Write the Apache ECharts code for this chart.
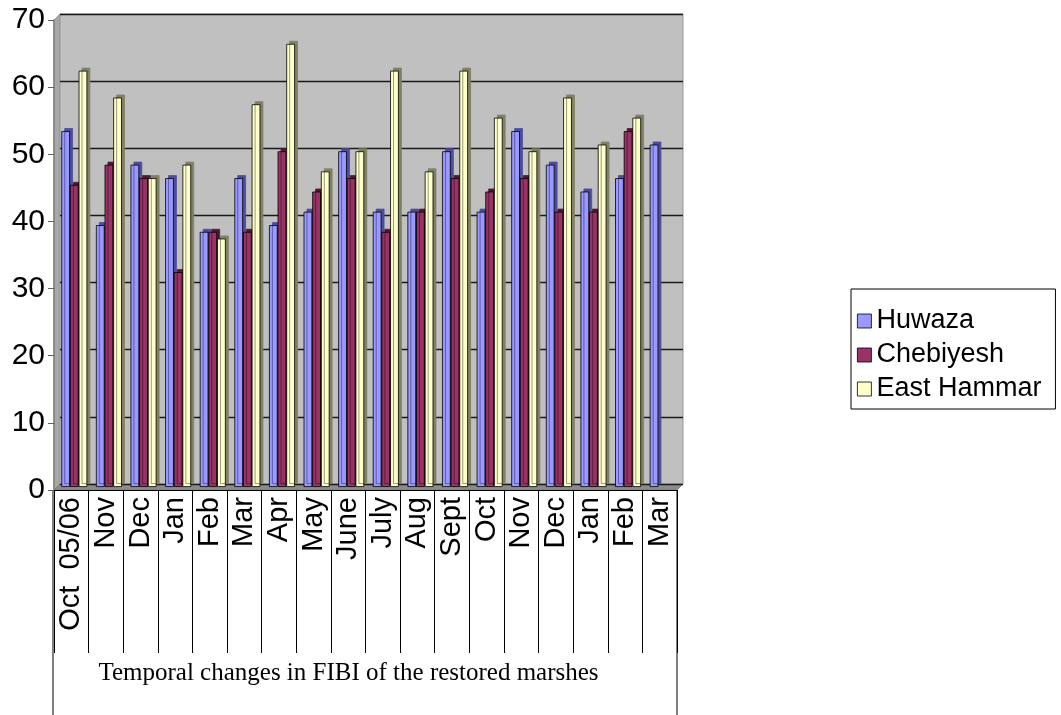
<!DOCTYPE html>
<html>
<head>
<meta charset="utf-8">
<script src="https://cdn.jsdelivr.net/npm/echarts@6/dist/echarts.min.js"></script>
<style>
html,body{margin:0;padding:0;background:#fff;}
#chart{width:1061px;height:715px;}
</style>
</head>
<body>
<div id="chart"></div>
<script>
// ---- data ----
const categories = ['Oct  05/06','Nov','Dec','Jan','Feb','Mar','Apr','May','June','July','Aug','Sept','Oct','Nov','Dec','Jan','Feb','Mar'];
const huwaza     = [53,39,48,46,38,46,39,41,50,41,41,50,41,53,48,44,46,51];
const chebiyesh  = [45,48,46,32,38,38,50,44,46,38,41,46,44,46,41,41,53,null];
const eastHammar = [62,58,46,48,37,57,66,47,50,62,47,62,55,50,58,51,55,null];
const seriesNames = ['Huwaza','Chebiyesh','East Hammar'];
const yTicks = {min:0, max:70, interval:10};
const xTitle = 'Temporal changes in FIBI of the restored marshes';

// ---- layout ----
const FRONT = {left:54, top:20, width:623, height:470};
const DEPTH = 6;
const MID = {left:FRONT.left+DEPTH/2, top:FRONT.top-DEPTH/2, width:FRONT.width, height:FRONT.height};
const BACK = {left:FRONT.left+DEPTH, top:FRONT.top-DEPTH, width:FRONT.width, height:FRONT.height};

const chart = echarts.init(document.getElementById('chart'), null, {renderer:'canvas'});

function barSeries(name, data, color, side){
  return {
    name, type:'bar', data, xAxisIndex:1, yAxisIndex:1,
    barGap:'0%', barCategoryGap:'25%',
    itemStyle:{color, borderColor:'#000', borderWidth:0.8,
      shadowColor:side, shadowBlur:0, shadowOffsetX:3, shadowOffsetY:-3},
    emphasis:{disabled:true},
    animation:false
  };
}

const fx0 = FRONT.left, fx1 = FRONT.left+FRONT.width, fy1 = FRONT.top+FRONT.height;
const bx0 = BACK.left, bx1 = BACK.left+BACK.width, by0 = BACK.top, by1 = BACK.top+BACK.height;

const option = {
  backgroundColor:'#fff',
  animation:false,
  textStyle:{fontFamily:'Arial, "Liberation Sans", sans-serif'},
  grid:[
    Object.assign({containLabel:false}, FRONT),
    Object.assign({containLabel:false}, MID),
    Object.assign({containLabel:false, show:true, backgroundColor:'#c0c0c0', borderColor:'#999', borderWidth:1}, BACK)
  ],
  xAxis:[
    {type:'category', gridIndex:0, data:categories,
     axisLine:{show:true, lineStyle:{color:'#000', width:1.2}},
     axisTick:{show:true, interval:0, length:163, lineStyle:{color:'#000', width:1}},
     axisLabel:{interval:0, rotate:90, fontSize:29, color:'#000', margin:7, hideOverlap:false, fontFamily:'Arial, "Liberation Sans", sans-serif'},
     name:xTitle, nameLocation:'middle', nameGap:171,
     nameTextStyle:{fontFamily:'"Liberation Serif","Times New Roman",serif', fontSize:25, color:'#000', padding:[0,34,0,0]}
    },
    {type:'category', gridIndex:1, data:categories, show:false},
    {type:'category', gridIndex:2, data:categories, show:false}
  ],
  yAxis:[
    {type:'value', gridIndex:0, min:yTicks.min, max:yTicks.max, interval:yTicks.interval,
     axisLine:{show:true, lineStyle:{color:'#808080', width:1.5}},
     axisTick:{show:true, length:6, lineStyle:{color:'#606060'}},
     axisLabel:{fontSize:30, color:'#000', margin:9},
     splitLine:{show:false}},
    {type:'value', gridIndex:1, min:yTicks.min, max:yTicks.max, interval:yTicks.interval, show:false},
    {type:'value', gridIndex:2, min:yTicks.min, max:yTicks.max, interval:yTicks.interval,
     axisLine:{show:false}, axisTick:{show:false}, axisLabel:{show:false},
     splitLine:{show:true, lineStyle:{color:'#1a1a1a', width:1.4}}}
  ],
  legend:{
    orient:'vertical', left:851, top:289,
    data:seriesNames,
    borderColor:'#000', borderWidth:1,
    padding:[17,14,5,6], itemGap:4,
    itemWidth:14, itemHeight:14, icon:'rect',
    itemStyle:{borderColor:'#000', borderWidth:0.8, shadowBlur:0, shadowOffsetX:0, shadowOffsetY:0, shadowColor:'rgba(0,0,0,0)'},
    textStyle:{fontSize:27, color:'#000', lineHeight:30, fontFamily:'Arial, "Liberation Sans", sans-serif'},
    selectedMode:false
  },
  series:[
    barSeries(seriesNames[0], huwaza, '#9999ff', '#4d4d99'),
    barSeries(seriesNames[1], chebiyesh, '#993366', '#4d1933'),
    barSeries(seriesNames[2], eastHammar, '#ffffcc', '#808066')
  ],
  graphic:[
    {type:'polygon', z:-1, silent:true, shape:{points:[[fx0,FRONT.top],[bx0,by0],[bx0,by1],[fx0,fy1]]}, style:{fill:'#a8a8a8', stroke:'#888', lineWidth:0.8}},
    {type:'polygon', z:-1, silent:true, shape:{points:[[fx0,fy1],[bx0,by1],[bx1,by1],[fx1,fy1]]}, style:{fill:'#8c8c8c', stroke:'#777', lineWidth:0.8}},
    {type:'line', silent:true, shape:{x1:fx0-1, y1:fy1, x2:fx0-1, y2:715}, style:{stroke:'#555', lineWidth:1.5}},
    {type:'line', silent:true, shape:{x1:fx1, y1:fy1, x2:fx1, y2:715}, style:{stroke:'#555', lineWidth:1.5}}
  ]
};
chart.setOption(option);
</script>
</body>
</html>
